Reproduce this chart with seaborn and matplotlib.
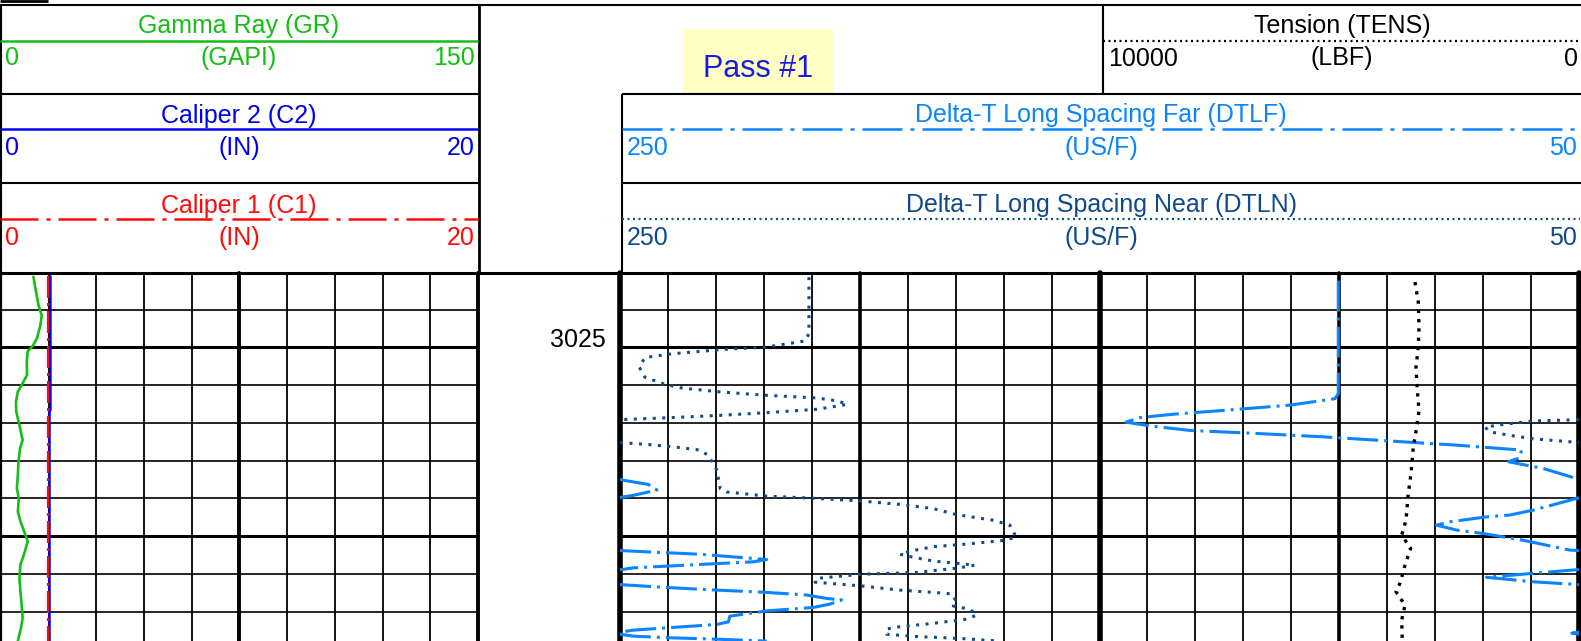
import numpy as np
import matplotlib.pyplot as plt
from matplotlib.patches import Rectangle
import seaborn as sns

# Well log excerpt: GR / calipers, depth track, DTLF / DTLN / TENS

sns.set_theme(style="white")
plt.rcParams["font.family"] = ["Liberation Sans", "DejaVu Sans"]

W, H = 1581, 641
PX = 72.0 / 100          # points per pixel at dpi 100
FS = 18

GREEN = "#14BE14"
BLUE = "#0000F2"
RED = "#FF0A0A"
DTLF_C = "#0A84FF"
DTLN_C = "#0F4A8C"

TOP, BOT = 3023.016, 3032.778

# ---- curve data (depth in ft) ----
gr_depth = [3023.13, 3023.52, 3023.88, 3024.15, 3024.41, 3024.76, 3024.96, 3025.10,
            3025.38, 3025.73, 3026.00, 3026.17, 3026.44, 3026.70, 3027.06, 3027.45,
            3027.67, 3028.02, 3028.38, 3028.73, 3029.00, 3029.35, 3029.61, 3029.88,
            3030.14, 3030.49, 3030.76, 3031.11, 3031.46, 3031.82, 3032.17, 3032.43,
            3032.70, 3032.78]
gr_val = [10.2, 11.0, 11.8, 12.8, 12.4, 11.3, 10.0, 8.4, 8.1, 8.2, 6.5, 5.3, 4.7, 4.8,
          5.8, 6.8, 6.0, 5.5, 5.3, 5.0, 5.6, 5.3, 6.1, 7.3, 8.4, 7.2, 6.1, 5.8, 6.1,
          6.5, 6.8, 6.3, 5.5, 5.3]

c2_depth = [3023.12, 3026.66, 3026.67, 3032.78]
c2_val = [2.07, 2.07, 2.03, 2.03]
c1_depth = [3023.12, 3032.78]
c1_val = [1.98, 1.98]

tens_depth = [3023.27, 3023.80, 3024.46, 3024.99, 3025.52, 3026.14, 3026.67, 3027.11,
              3027.64, 3028.34, 3028.87, 3029.58, 3029.97, 3030.33, 3030.77, 3031.25,
              3031.47, 3031.83, 3032.22, 3032.78]
tens_val = [3424, 3355, 3340, 3355, 3403, 3376, 3340, 3388, 3459, 3507, 3564, 3612,
            3701, 3514, 3633, 3737, 3820, 3633, 3701, 3689]

dtln_depth = [3023.14, 3024.02, 3024.64, 3024.83, 3024.99, 3025.06, 3025.17, 3025.27,
              3025.52, 3025.79, 3025.96, 3026.07, 3026.18, 3026.27, 3026.34, 3026.42,
              3026.51, 3026.55, 3026.64, 3026.73, 3026.80, 3026.86, 3026.91,
              3026.95, 3027.04, 3027.11, 3027.24, 3027.33, 3027.42,
              3027.53, 3027.57, 3027.64, 3027.72, 3027.86, 3028.25, 3028.74, 3028.83,
              3028.94, 3029.00, 3029.07, 3029.16, 3029.27, 3029.43, 3029.58, 3029.71,
              3029.97, 3030.02, 3030.11, 3030.21, 3030.28, 3030.39, 3030.48, 3030.55,
              3030.66, 3030.72, 3030.77, 3030.85, 3030.96, 3031.01, 3031.12, 3031.22,
              3031.32, 3031.43, 3031.49, 3031.53, 3031.74, 3031.85, 3031.94, 3032.09,
              3032.20, 3032.31, 3032.40, 3032.46, 3032.60, 3032.66, 3032.71, 3032.78]
dtln_val = [210.6, 210.6, 210.6, 211.4, 219.4, 229.1, 239.2, 244.8, 246.0, 244.8, 241.0,
            237.5, 229.1, 219.4, 209.0, 204.5, 202.6, 204.5, 209.0, 219.4, 229.1, 239.2,
            249.0,
            259.6, 265.8, 269.6, 268.6, 264.4, 259.6,
            249.0, 244.4, 238.5, 233.3, 231.6, 229.8, 229.1, 227.7, 219.4, 209.0, 199.6,
            191.6, 184.7, 179.8, 172.1, 168.7, 167.6, 167.3, 169.7, 177.7, 184.7, 189.2,
            191.6, 189.2, 184.7, 179.8, 176.0, 179.8, 188.1, 199.6, 209.0, 209.3, 199.6,
            191.6, 184.7, 180.8, 179.8, 180.5, 177.0, 175.6, 177.7, 184.7, 191.6, 194.4,
            194.4, 188.1, 179.1, 170.8]

dtlf_depth = [3023.23, 3026.22, 3026.36, 3026.53, 3026.67, 3026.77, 3026.86, 3026.98,
              3027.08, 3027.20, 3027.28, 3027.37, 3027.48, 3027.59, 3027.72, 3027.92,
              3028.03, 3028.21, 3028.52, 3028.63, 3028.78, 3028.92, 3028.96, 3029.31,
              3029.44, 3029.49, 3029.62, 3029.71, 3029.84, 3029.93, 3030.11, 3030.37,
              3030.42, 3030.48, 3030.62, 3030.68, 3030.75, 3030.84, 3030.88, 3030.90,
              3031.09, 3031.21, 3031.36, 3031.43, 3031.49, 3031.56, 3031.65, 3031.69,
              3031.80, 3031.89, 3031.98, 3032.12, 3032.27, 3032.34, 3032.40, 3032.49,
              3032.57, 3032.65, 3032.69, 3032.73, 3032.78]
dtlf_val = [100.2, 100.2, 100.9, 110.3, 124.2, 134.6, 141.6, 144.5, 139.5, 131.1, 117.2,
            103.3, 89.4, 75.5, 62.0, 62.3, 64.7, 57.4, 49.3, 44.1, 42.3, 47.2, 49.3, 59.5,
            64.4, 69.3, 76.9, 79.7, 75.5, 70.0, 61.6, 51.9, 43.7, 33.3, 19.4, 22.2, 33.3,
            47.2, 49.3, 51.5, 69.3, 59.5, 40.3, 29.8, 19.4, 11.1, 6.9, 3.8, 6.2, 9.7,
            19.4, 27.1, 27.4, 29.8, 36.8, 47.2, 51.5, 47.2, 40.3, 29.8, 19.4]

depth_labels = [3025]


def pdash(pattern_px, lw_pt):
    # dash pattern given in pixels -> matplotlib units (multiples of linewidth)
    return (0, [p * PX / lw_pt for p in pattern_px])


def px_axes(fig, x0, x1, y0, y1):
    ax = fig.add_axes([x0 / W, 1 - y1 / H, (x1 - x0) / W, (y1 - y0) / H])
    ax.set_axis_off()
    return ax


def wrap(depth, vals, lo=50.0, span=200.0):
    """Split a curve into on-scale pieces (wrap-around backup scale)."""
    band = lambda v: np.floor((v - lo) / span)
    pieces, cur_d, cur_v = [], [], []
    for i, (d, v) in enumerate(zip(depth, vals)):
        b = band(v)
        if i > 0:
            d0, v0 = depth[i - 1], vals[i - 1]
            b0 = band(v0)
            if b0 != b:
                edge = lo + span * max(b0, b)
                t = (edge - v0) / (v - v0)
                dc = d0 + t * (d - d0)
                cur_d.append(dc)
                cur_v.append(edge - span * b0)
                pieces.append((cur_d, cur_v))
                cur_d, cur_v = [dc], [edge - span * b]
        cur_d.append(d)
        cur_v.append(v - span * b)
    pieces.append((cur_d, cur_v))
    return pieces


def depth_grid(ax):
    for d in range(3024, 3033):
        ax.axhline(d, color="black", lw=2.2 if d % 5 == 0 else 1.2, zorder=1)


def curve(ax, x, y, color, lw, ls="-"):
    sns.lineplot(x=x, y=y, ax=ax, sort=False, estimator=None, color=color,
                 linewidth=lw, linestyle=ls, zorder=3)


fig = plt.figure(figsize=(W / 100, H / 100), dpi=100)

# ---- Track 1: GR + calipers ----
ax1 = px_axes(fig, 1, 478, 272.5, H)
for i, x in enumerate(np.linspace(0, 150, 11)):
    lw = 2.8 if i in (5, 10) else (1.6 if i == 0 else 1.3)
    ax1.axvline(x, color="black", lw=lw, zorder=1, clip_on=False)
depth_grid(ax1)
curve(ax1, gr_val, gr_depth, GREEN, 1.9)
ax1.set_xlim(0, 150)
ax1.set_ylim(BOT, TOP)

ax1c = px_axes(fig, 1, 478, 272.5, H)
curve(ax1c, c2_val, c2_depth, BLUE, 1.9)
curve(ax1c, c1_val, c1_depth, RED, 1.6, pdash([22, 5, 3, 5], 1.6))
ax1c.set_xlim(0, 20)
ax1c.set_ylim(BOT, TOP)

# ---- depth track ----
axd = px_axes(fig, 478, 620, 272.5, H)
axd.set_xlim(478, 620)
axd.set_ylim(BOT, TOP)
for d in depth_labels:
    axd.text(606, d, str(d), ha="right", va="baseline", fontsize=FS, color="black")

# ---- Track 2/3: DTLF, DTLN, TENS ----
ax2 = px_axes(fig, 620, 1579, 272.5, H)
for i, x in enumerate(np.arange(250, 49, -10)):
    lw = 4.0 if i in (0, 10, 20) else (2.6 if i in (5, 15) else 1.3)
    ax2.axvline(x, color="black", lw=lw, zorder=1, clip_on=False)
depth_grid(ax2)
for pd_, pv in wrap(dtln_depth, dtln_val):
    curve(ax2, pv, pd_, DTLN_C, 2.2, pdash([3, 6.5], 2.2))
for pd_, pv in wrap(dtlf_depth, dtlf_val):
    curve(ax2, pv, pd_, DTLF_C, 2.2, pdash([31, 6, 3, 6], 2.2))
ax2.set_xlim(250, 50)
ax2.set_ylim(BOT, TOP)

ax3 = px_axes(fig, 1100, 1579, 272.5, H)
curve(ax3, tens_val, tens_depth, "black", 2.4, pdash([3.3, 6], 2.4))
ax3.set_xlim(10000, 0)
ax3.set_ylim(BOT, TOP)

# ---- header, drawn in pixel coordinates ----
axh = fig.add_axes([0, 0, 1, 1], zorder=10)
axh.set_xlim(0, W)
axh.set_ylim(H, 0)
axh.set_axis_off()


def hline(y, x0, x1, lw=1.5, color="black", ls="-"):
    axh.plot([x0, x1], [y, y], color=color, lw=lw, linestyle=ls,
             solid_capstyle="butt", dash_capstyle="butt")


def vline(x, y0, y1, lw=1.5):
    axh.plot([x, x], [y0, y1], color="black", lw=lw, solid_capstyle="butt")


hline(1.2, 0, 48, lw=2.0)
hline(5, 0, W)
hline(94, 0, 479)
hline(183, 0, 479)
hline(94, 622, W)
hline(183, 622, W)
hline(272.5, 0, W, lw=2.2)
vline(1, 5, 272)
vline(479, 5, 272, lw=2.0)
vline(622, 94, 272)
vline(1103, 5, 94)

axh.add_patch(Rectangle((683, 29), 150, 64.5, facecolor="#FFFFC4", edgecolor="none"))
axh.text(758, 77, "Pass #1", ha="center", va="baseline", fontsize=22, color="#1A1AE6")


def header(x0, x1, title, unit, left, right, color, y_title, y_line, y_lab,
           ls, lw, cx=None):
    cx = (x0 + x1) / 2 if cx is None else cx
    axh.text(cx, y_title, title, ha="center", va="baseline", fontsize=FS, color=color)
    hline(y_line, x0, x1, lw=lw, color=color, ls=ls)
    axh.text(x0 + 5, y_lab, left, ha="left", va="baseline", fontsize=FS, color=color)
    axh.text(cx, y_lab, unit, ha="center", va="baseline", fontsize=FS, color=color)
    axh.text(x1 - 3, y_lab, right, ha="right", va="baseline", fontsize=FS, color=color)


header(0, 478, "Gamma Ray (GR)", "(GAPI)", "0", "150", GREEN, 33, 40.7, 65, "-", 1.8, 239)
header(0, 478, "Caliper 2 (C2)", "(IN)", "0", "20", BLUE, 123, 129.3, 155, "-", 1.8, 239)
header(0, 478, "Caliper 1 (C1)", "(IN)", "0", "20", RED, 213, 219, 245,
       pdash([38, 8, 4, 8], 1.8), 1.8, 239)
header(1103, 1581, "Tension (TENS)", "(LBF)", "10000", "0", "black", 33, 40.7, 65.5,
       pdash([2, 3.5], 1.6), 1.6, 1342)
header(622, 1580, "Delta-T Long Spacing Far (DTLF)", "(US/F)", "250", "50", DTLF_C,
       122, 129.3, 155, pdash([40, 8, 4, 8], 1.8), 1.8, 1101)
header(622, 1580, "Delta-T Long Spacing Near (DTLN)", "(US/F)", "250", "50", DTLN_C,
       212, 219, 245, pdash([2, 3.5], 1.6), 1.6, 1101)

fig.savefig("out.png", dpi=100, facecolor="white")
